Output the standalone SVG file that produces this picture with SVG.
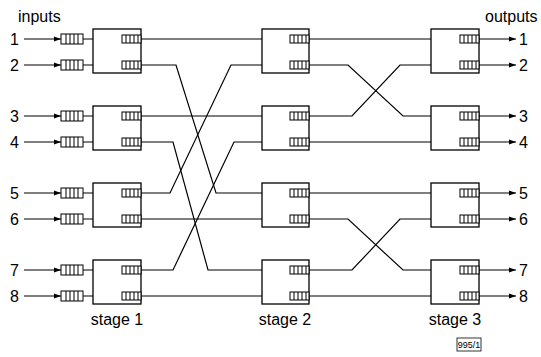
<svg xmlns="http://www.w3.org/2000/svg" width="541" height="357" viewBox="0 0 541 357">
<style>
.bx{fill:#fff;stroke:#000;stroke-width:1.3}
.q{fill:#fff;stroke:#000;stroke-width:1}
.ln{fill:none;stroke:#000;stroke-width:1.2}
.ar{fill:none;stroke:#000;stroke-width:1.1;marker-end:url(#ah)}
text{font-family:"Liberation Sans",Arial,sans-serif;font-size:16px;fill:#000}
.sm{font-size:9px}
</style>
<defs>
<marker id="ah" markerWidth="8" markerHeight="6" refX="7" refY="3" orient="auto" markerUnits="userSpaceOnUse">
<path d="M0,0.5 L7,3 L0,5.5 Z" fill="#000"/>
</marker>
<g id="iq"><rect class="q" x="0" y="-5" width="22" height="10"/><path class="q" d="M5,-5V5M9,-5V5M13,-5V5M17,-5V5"/></g>
<g id="oq"><rect class="q" x="0" y="-4" width="19" height="8"/><path class="q" d="M4,-4V4M8,-4V4M12,-4V4M16,-4V4"/></g>
</defs>
<text x="18" y="22">inputs</text>
<text x="485" y="22">outputs</text>
<g id="inputs">
<text x="10" y="45">1</text><text x="10" y="71">2</text><text x="10" y="122">3</text><text x="10" y="148">4</text>
<text x="10" y="199">5</text><text x="10" y="225">6</text><text x="10" y="276">7</text><text x="10" y="302">8</text>
</g>
<g id="outputs">
<text x="519" y="45">1</text><text x="519" y="71">2</text><text x="519" y="122">3</text><text x="519" y="148">4</text>
<text x="519" y="199">5</text><text x="519" y="225">6</text><text x="519" y="276">7</text><text x="519" y="302">8</text>
</g>
<g id="connectors">
<path class="ar" d="M24,39H61"/><path class="ar" d="M24,65H61"/><path class="ar" d="M24,116H61"/><path class="ar" d="M24,142H61"/>
<path class="ar" d="M24,193H61"/><path class="ar" d="M24,219H61"/><path class="ar" d="M24,270H61"/><path class="ar" d="M24,296H61"/>
<path class="ln" d="M83,39H93M83,65H93M83,116H93M83,142H93M83,193H93M83,219H93M83,270H93M83,296H93"/>
<path class="ln" d="M141,39H262M141,116H262M141,219H262M141,296H262"/>
<path class="ln" d="M141,65H176L216,193H262"/>
<path class="ln" d="M141,142H173L208,270H262"/>
<path class="ln" d="M141,193H170L231,65H262"/>
<path class="ln" d="M141,270H173L234,142H262"/>
<path class="ln" d="M309,39H431M309,142H431M309,193H431M309,296H431"/>
<path class="ln" d="M309,65H348L403,116H431"/>
<path class="ln" d="M309,116H352L400,65H431"/>
<path class="ln" d="M309,219H348L403,270H431"/>
<path class="ln" d="M309,270H352L400,219H431"/>
<path class="ar" d="M479,39H516"/><path class="ar" d="M479,65H516"/><path class="ar" d="M479,116H516"/><path class="ar" d="M479,142H516"/>
<path class="ar" d="M479,193H516"/><path class="ar" d="M479,219H516"/><path class="ar" d="M479,270H516"/><path class="ar" d="M479,296H516"/>
</g>
<g id="inq">
<use href="#iq" x="61" y="39"/><use href="#iq" x="61" y="65"/><use href="#iq" x="61" y="116"/><use href="#iq" x="61" y="142"/>
<use href="#iq" x="61" y="193"/><use href="#iq" x="61" y="219"/><use href="#iq" x="61" y="270"/><use href="#iq" x="61" y="296"/>
</g>
<g id="s1b1"><rect class="bx" x="93" y="29" width="48" height="44"/><use href="#oq" x="122" y="39"/><use href="#oq" x="122" y="65"/></g>
<g id="s1b2"><rect class="bx" x="93" y="106" width="48" height="44"/><use href="#oq" x="122" y="116"/><use href="#oq" x="122" y="142"/></g>
<g id="s1b3"><rect class="bx" x="93" y="183" width="48" height="44"/><use href="#oq" x="122" y="193"/><use href="#oq" x="122" y="219"/></g>
<g id="s1b4"><rect class="bx" x="93" y="260" width="48" height="44"/><use href="#oq" x="122" y="270"/><use href="#oq" x="122" y="296"/></g>
<g id="s2b1"><rect class="bx" x="262" y="29" width="47" height="44"/><use href="#oq" x="290" y="39"/><use href="#oq" x="290" y="65"/></g>
<g id="s2b2"><rect class="bx" x="262" y="106" width="47" height="44"/><use href="#oq" x="290" y="116"/><use href="#oq" x="290" y="142"/></g>
<g id="s2b3"><rect class="bx" x="262" y="183" width="47" height="44"/><use href="#oq" x="290" y="193"/><use href="#oq" x="290" y="219"/></g>
<g id="s2b4"><rect class="bx" x="262" y="260" width="47" height="44"/><use href="#oq" x="290" y="270"/><use href="#oq" x="290" y="296"/></g>
<g id="s3b1"><rect class="bx" x="431" y="29" width="48" height="44"/><use href="#oq" x="460" y="39"/><use href="#oq" x="460" y="65"/></g>
<g id="s3b2"><rect class="bx" x="431" y="106" width="48" height="44"/><use href="#oq" x="460" y="116"/><use href="#oq" x="460" y="142"/></g>
<g id="s3b3"><rect class="bx" x="431" y="183" width="48" height="44"/><use href="#oq" x="460" y="193"/><use href="#oq" x="460" y="219"/></g>
<g id="s3b4"><rect class="bx" x="431" y="260" width="48" height="44"/><use href="#oq" x="460" y="270"/><use href="#oq" x="460" y="296"/></g>
<text x="117" y="325" text-anchor="middle">stage 1</text>
<text x="285" y="325" text-anchor="middle">stage 2</text>
<text x="455" y="325" text-anchor="middle">stage 3</text>
<g id="ref"><rect x="457" y="338" width="24" height="13" fill="#fff" stroke="#000" stroke-width="0.8"/><text class="sm" x="469" y="348" text-anchor="middle">995/1</text></g>
</svg>
